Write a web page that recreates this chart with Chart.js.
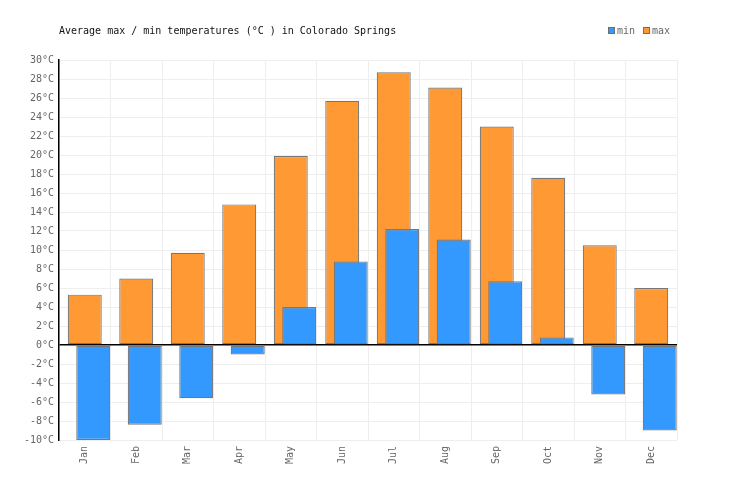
<!DOCTYPE html>
<html>
<head>
<meta charset="utf-8">
<script src="https://cdn.jsdelivr.net/npm/chart.js@4/dist/chart.umd.min.js"></script>
<style>
    html, body { margin: 0; padding: 0; background: #fff; }
    #wrap { width: 736px; height: 500px; }
</style>
</head>
<body>
<div id="wrap"><canvas id="tempChart"></canvas></div>
<script>
    const months = ['Jan', 'Feb', 'Mar', 'Apr', 'May', 'Jun', 'Jul', 'Aug', 'Sep', 'Oct', 'Nov', 'Dec'];
    const maxTemps = [5.3, 7.0, 9.7, 14.8, 19.9, 25.7, 28.7, 27.1, 23.0, 17.6, 10.5, 6.0];
    const minTemps = [-10.0, -8.4, -5.6, -1.0, 4.0, 8.8, 12.2, 11.1, 6.7, 0.8, -5.2, -9.0];
    const yTicks = [-10, -8, -6, -4, -2, 0, 2, 4, 6, 8, 10, 12, 14, 16, 18, 20, 22, 24, 26, 28, 30];
    const chartTitle = 'Average max / min temperatures (°C ) in Colorado Springs';

    const monoFont = "'DejaVu Sans Mono', 'Liberation Mono', monospace";

    // title + legend on one row, drawn by hand
    const headerPlugin = {
        id: 'header',
        afterDraw: function (chart) {
            const ctx = chart.ctx;
            const area = chart.chartArea;
            ctx.save();
            ctx.font = '10px ' + monoFont;
            ctx.textBaseline = 'middle';
            ctx.fillStyle = '#111';
            ctx.textAlign = 'left';
            ctx.fillText(chartTitle, area.left, 31);

            const items = [chart.data.datasets[2], chart.data.datasets[1]];
            let x = 608;
            items.forEach(function (ds) {
                ctx.fillStyle = ds.backgroundColor;
                ctx.fillRect(x + 0.5, 27.5, 6, 6);
                ctx.strokeStyle = '#6e6e6e';
                ctx.lineWidth = 1;
                ctx.strokeRect(x + 0.5, 27.5, 6, 6);
                ctx.fillStyle = '#666';
                ctx.fillText(ds.label, x + 9, 31);
                x += 9 + ctx.measureText(ds.label).width + 8;
            });
            ctx.restore();
        }
    };

    // min bars sit in the right slot but must be painted over the max bars
    const minOnTop = {
        id: 'minOnTop',
        beforeDatasetDraw: function (chart, args) {
            if (args.index === 2) return false;
        },
        afterDatasetsDraw: function (chart) {
            const meta = chart.getDatasetMeta(2);
            if (meta && meta.controller) meta.controller.draw();
        }
    };

    const ctx = document.getElementById('tempChart').getContext('2d');
    const tempChart = new Chart(ctx, {
        type: 'bar',
        data: {
            labels: months,
            datasets: [{
                // empty left slot so the max bar lands on the category centre
                label: '',
                data: months.map(() => null),
                categoryPercentage: 0.495,
                barPercentage: 4.0
            }, {
                label: 'max',
                data: maxTemps,
                backgroundColor: '#ff9933',
                borderColor: '#777777',
                borderWidth: 1.2,
                borderSkipped: false,
                categoryPercentage: 0.495,
                barPercentage: 4.0
            }, {
                label: 'min',
                data: minTemps,
                backgroundColor: '#3399ff',
                borderColor: '#777777',
                borderWidth: 1.2,
                borderSkipped: false,
                categoryPercentage: 0.495,
                barPercentage: 4.0
            }]
        },
        options: {
            responsive: true,
            maintainAspectRatio: false,
            animation: false,
            layout: {
                padding: { top: 60, right: 59, bottom: 0, left: 0 }
            },
            scales: {
                x: {
                    offset: true,
                    grid: {
                        color: '#eeeeee',
                        drawTicks: false,
                        offset: true
                    },
                    border: { display: false },
                    ticks: {
                        color: '#666',
                        font: { family: monoFont, size: 10 },
                        maxRotation: 90,
                        minRotation: 90,
                        padding: 6
                    },
                    afterFit: function (scale) {
                        scale.height = 60;
                    }
                },
                y: {
                    min: -10,
                    max: 30,
                    afterBuildTicks: function (scale) {
                        scale.ticks = yTicks.map(v => ({ value: v }));
                    },
                    grid: {
                        drawTicks: false,
                        color: function (context) {
                            return context.tick && context.tick.value === 0 ? '#000' : '#eeeeee';
                        },
                        lineWidth: function (context) {
                            return context.tick && context.tick.value === 0 ? 1.5 : 1;
                        }
                    },
                    border: { display: true, color: '#000', width: 1.5 },
                    ticks: {
                        color: '#666',
                        font: { family: monoFont, size: 10 },
                        padding: 5,
                        callback: function (value) {
                            return value + '°C';
                        }
                    },
                    afterFit: function (scale) {
                        scale.width = 59;
                    }
                }
            },
            plugins: {
                legend: { display: false },
                title: { display: false },
                tooltip: { enabled: false }
            }
        },
        plugins: [minOnTop, headerPlugin]
    });
</script>
</body>
</html>
